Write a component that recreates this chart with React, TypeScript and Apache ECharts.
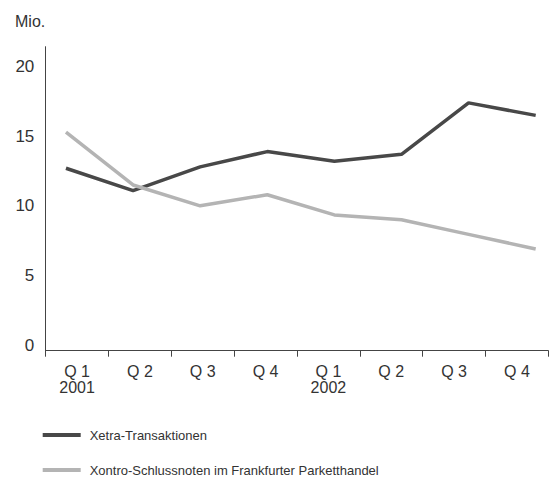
import React, { useEffect, useRef } from "react";
import * as echarts from "echarts";

const categories = ["Q 1\n2001", "Q 2", "Q 3", "Q 4", "Q 1\n2002", "Q 2", "Q 3", "Q 4"];
const yTicks = [0, 5, 10, 15, 20];
const xetra = [12.7, 11.1, 12.8, 13.9, 13.2, 13.7, 17.4, 16.5];
const xontro = [15.3, 11.5, 10.0, 10.8, 9.35, 9.0, 7.95, 6.9];
const seriesNames = ["Xetra-Transaktionen", "Xontro-Schlussnoten im Frankfurter Parketthandel"];

const FONT = "'Liberation Sans', Arial, sans-serif";

export default function App() {
  const ref = useRef<HTMLDivElement>(null);
  useEffect(() => {
    if (!ref.current) return;
    const chart = echarts.init(ref.current, undefined, { renderer: "svg" });
    const toPts = (arr: number[]) => arr.map((v, i) => [i, v]);
    chart.setOption({
      animation: false,
      backgroundColor: "#ffffff",
      textStyle: { fontFamily: FONT },
      title: {
        text: "Mio.",
        left: 15,
        top: 13,
        padding: 0,
        textStyle: { fontFamily: FONT, fontSize: 16, fontWeight: "normal", color: "#333" },
      },
      legend: {
        orient: "vertical",
        left: 42.7,
        top: 427,
        width: 500,
        height: 80,
        padding: 0,
        itemWidth: 38,
        itemHeight: 4,
        itemGap: 19,
        icon: "rect",
        data: seriesNames,
        textStyle: { fontFamily: FONT, fontSize: 13, color: "#333", lineHeight: 16, padding: [0, 0, 0, 4] },
      },
      grid: [
        { left: 45.7, right: 9.7, top: 46.7, bottom: 126.3 },
        { left: 45.7, right: 9.7, top: 66.7, bottom: 132 },
      ],
      xAxis: [
        {
          type: "category",
          gridIndex: 0,
          data: categories,
          boundaryGap: true,
          axisLine: { show: true, lineStyle: { color: "#444", width: 1 } },
          axisTick: { show: true, length: 6, lineStyle: { color: "#444" }, interval: 0 },
          axisLabel: {
            interval: 0,
            margin: 13,
            fontFamily: FONT,
            fontSize: 16,
            lineHeight: 16,
            color: "#333",
          },
          splitLine: { show: false },
        },
        {
          type: "value",
          gridIndex: 1,
          min: -0.302,
          max: 7.188,
          show: false,
        },
      ],
      yAxis: [
        {
          type: "value",
          gridIndex: 0,
          min: 0,
          max: 1,
          axisLine: { show: true, lineStyle: { color: "#444", width: 1 } },
          axisTick: { show: false },
          axisLabel: { show: false },
          splitLine: { show: false },
        },
        {
          type: "value",
          gridIndex: 1,
          min: yTicks[0],
          max: yTicks[yTicks.length - 1],
          interval: 5,
          axisLine: { show: false },
          axisTick: { show: false },
          splitLine: { show: false },
          axisLabel: { margin: 11.4, fontFamily: FONT, fontSize: 17, color: "#333" },
        },
      ],
      series: [
        {
          name: seriesNames[0],
          type: "line",
          xAxisIndex: 1,
          yAxisIndex: 1,
          data: toPts(xetra),
          symbol: "none",
          color: "#484848",
          lineStyle: { color: "#484848", width: 3.5 },
        },
        {
          name: seriesNames[1],
          type: "line",
          xAxisIndex: 1,
          yAxisIndex: 1,
          data: toPts(xontro),
          symbol: "none",
          color: "#b4b4b4",
          lineStyle: { color: "#b4b4b4", width: 3.5 },
        },
      ],
    });
    return () => chart.dispose();
  }, []);
  return (
    <div
      ref={ref}
      style={{ position: "absolute", left: 0, top: 0, width: 558, height: 477 }}
    />
  );
}
